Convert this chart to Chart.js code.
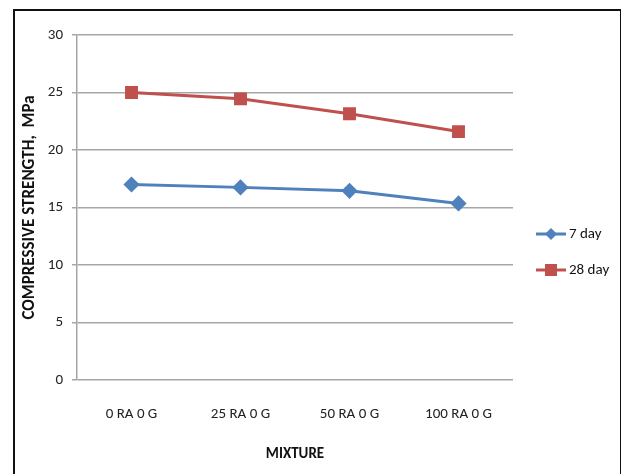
<!DOCTYPE html>
<html>
<head>
<meta charset="utf-8">
<script src="https://cdn.jsdelivr.net/npm/chart.js@4"></script>
<style>
  html, body { margin: 0; padding: 0; background: #fff; }
  #wrap { position: relative; width: 621px; height: 474px; overflow: hidden; }
  #frame { position: absolute; left: 13px; top: 9px; width: 605px; height: 480px; border: 2px solid #111; border-bottom: none; }
  canvas { position: absolute; left: 0; top: 0; }
</style>
</head>
<body>
<div id="wrap">
  <div id="frame"></div>
  <canvas id="strengthChart" width="621" height="474"></canvas>
</div>
<script>
const mixtures = ['0 RA 0 G', '25 RA 0 G', '50 RA 0 G', '100 RA 0 G'];
const day7 = [17.0, 16.75, 16.45, 15.35];
const day28 = [25.0, 24.45, 23.15, 21.6];
const yTicks = [0, 5, 10, 15, 20, 25, 30];

const FONT = "'Carlito', 'Liberation Sans Narrow', 'DejaVu Sans Condensed', sans-serif";

// legend drawn by hand: line with marker in the middle, like the office chart
const sideLegend = {
    id: 'sideLegend',
    afterDraw(chart) {
        const ctx = chart.ctx;
        const rows = [234, 270];
        chart.data.datasets.forEach(function(ds, i) {
            const y = rows[i];
            ctx.save();
            ctx.strokeStyle = ds.borderColor;
            ctx.lineWidth = 3;
            ctx.beginPath();
            ctx.moveTo(536, y);
            ctx.lineTo(566, y);
            ctx.stroke();
            ctx.fillStyle = ds.backgroundColor;
            if (ds.pointStyle === 'rectRot') {
                ctx.beginPath();
                ctx.moveTo(551, y - 6);
                ctx.lineTo(557, y);
                ctx.lineTo(551, y + 6);
                ctx.lineTo(545, y);
                ctx.closePath();
                ctx.fill();
            } else {
                ctx.fillRect(545, y - 6, 12, 12);
            }
            ctx.fillStyle = '#111';
            ctx.font = '15px ' + FONT;
            ctx.textBaseline = 'middle';
            ctx.fillText(ds.label, 569, y);
            ctx.restore();
        });
    }
};

const ctx = document.getElementById('strengthChart').getContext('2d');
new Chart(ctx, {
    type: 'line',
    data: {
        labels: mixtures,
        datasets: [
            {
                label: '7 day',
                data: day7,
                borderColor: '#4F81BD',
                backgroundColor: '#4F81BD',
                borderWidth: 3,
                pointStyle: 'rectRot',
                pointRadius: 6,
                pointHoverRadius: 6,
                tension: 0
            },
            {
                label: '28 day',
                data: day28,
                borderColor: '#C0504D',
                backgroundColor: '#C0504D',
                borderWidth: 3,
                pointStyle: 'rect',
                pointRadius: 7,
                pointHoverRadius: 7,
                tension: 0
            }
        ]
    },
    options: {
        responsive: false,
        animation: false,
        layout: { padding: { left: 18, right: 108, top: 35, bottom: 0 } },
        plugins: {
            legend: { display: false },
            tooltip: { enabled: false }
        },
        scales: {
            x: {
                offset: true,
                grid: { display: false, drawTicks: false },
                border: { display: false },
                ticks: { color: '#222', padding: 25, font: { family: FONT, size: 15 } },
                title: {
                    display: true,
                    text: 'MIXTURE',
                    color: '#111',
                    font: { family: FONT, size: 15, weight: 'bold' },
                    padding: { top: 4, bottom: 11 }
                },
                afterFit(scale) { scale.height = 94; }
            },
            y: {
                min: 0,
                max: 30,
                afterBuildTicks(scale) { scale.ticks = yTicks.map(v => ({ value: v })); },
                grid: { color: '#a6a6a6', lineWidth: 1.5, tickLength: 5 },
                border: { color: '#a6a6a6', width: 1.5 },
                ticks: { color: '#222', padding: 9, font: { family: FONT, size: 15 } },
                title: {
                    display: true,
                    text: 'COMPRESSIVE STRENGTH,  MPa',
                    color: '#111',
                    font: { family: FONT, size: 17, weight: 'bold' },
                    padding: { top: 2, bottom: 4 }
                },
                afterFit(scale) { scale.width = 59; }
            }
        }
    },
    plugins: [sideLegend]
});
</script>
</body>
</html>
